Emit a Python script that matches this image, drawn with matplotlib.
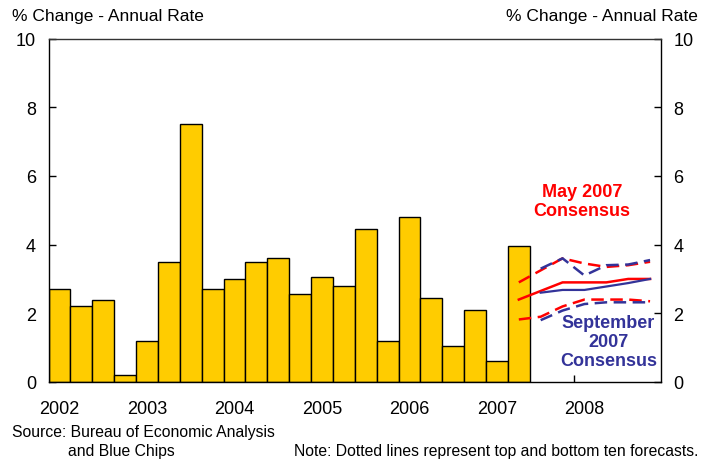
import matplotlib
matplotlib.use("Agg")
import matplotlib.pyplot as plt

# =============================
# DATA
# =============================

YEARS = ["2002", "2003", "2004", "2005", "2006", "2007", "2008"]

# quarterly GDP growth, 2002Q1 .. 2007Q2
GDP_ACTUAL = [2.7, 2.2, 2.4, 0.2, 1.2, 3.5, 7.5, 2.7, 3.0, 3.5, 3.6,
              2.55, 3.05, 2.8, 4.45, 1.2, 4.8, 2.45, 1.05, 2.1, 0.6, 3.95]

# forecast quarter index (0 = 2002Q1)
MAY_Q = [21, 22, 23, 24, 25, 26, 27]
MAY_MEDIAN = [2.4, 2.65, 2.9, 2.9, 2.9, 3.0, 3.0]
MAY_TOP = [2.9, 3.25, 3.6, 3.45, 3.35, 3.4, 3.5]
MAY_BOTTOM = [1.82, 1.9, 2.2, 2.4, 2.4, 2.4, 2.35]

SEP_Q = [22, 23, 24, 25, 26, 27]
SEP_MEDIAN = [2.6, 2.68, 2.68, 2.78, 2.88, 3.0]
SEP_TOP = [3.3, 3.6, 3.1, 3.4, 3.42, 3.55]
SEP_BOTTOM = [1.8, 2.08, 2.27, 2.32, 2.32, 2.32]

# =============================
# STYLE
# =============================

plt.rcParams["font.family"] = ["Liberation Sans", "DejaVu Sans"]

BAR_COLOR = "#FFCC00"
RED = "#FF0000"
BLUE = "#333399"
W, H = 715, 464

fig = plt.figure(figsize=(W / 100, H / 100), dpi=100)
ax = fig.add_axes([48.5 / W, (H - 383) / H, (661 - 48.5) / W, (383 - 39.5) / H])

ax.bar(range(len(GDP_ACTUAL)), GDP_ACTUAL, width=1.0, align="edge",
       color=BAR_COLOR, edgecolor="black", linewidth=1.0, zorder=2)

mx = [q + 0.5 for q in MAY_Q]
sx = [q + 0.5 for q in SEP_Q]
dash = (5, 2.6)

ax.plot(mx, MAY_MEDIAN, color=RED, lw=1.8, zorder=3)
ax.plot(sx, SEP_MEDIAN, color=BLUE, lw=1.6, zorder=3)
ax.plot(mx, MAY_TOP, color=RED, lw=1.8, dashes=dash, zorder=3)
ax.plot(mx, MAY_BOTTOM, color=RED, lw=1.8, dashes=dash, zorder=3)
ax.plot(sx, SEP_TOP, color=BLUE, lw=1.8, dashes=dash, zorder=4)
ax.plot(sx, SEP_BOTTOM, color=BLUE, lw=1.8, dashes=dash, zorder=4)

ax.set_xlim(0, 28)
ax.set_ylim(0, 10)

# year boundaries as ticks, labels under the first quarter
ax.set_xticks([4 * i for i in range(1, 7)])
ax.set_xticklabels([])
ax.set_xticks([4 * i + 0.5 for i in range(len(YEARS))], minor=True)
ax.set_xticklabels(YEARS, minor=True, fontsize=13)
ax.tick_params(axis="x", which="major", direction="in", length=5, width=1)
ax.tick_params(axis="x", which="minor", length=0, pad=13)

ax.set_yticks(range(0, 11, 2))
ax.tick_params(axis="y", direction="in", length=5, width=1, labelsize=13,
               left=True, right=True, labelleft=True, labelright=True)
ax.tick_params(axis="y", which="major", pad=9)

for s in ax.spines.values():
    s.set_color("black")
    s.set_linewidth(1.0)
ax.spines["top"].set_color("#333333")

# =============================
# TEXT
# =============================

fig.text(12 / W, 1 - 17 / H, "% Change - Annual Rate", fontsize=12.5,
         ha="left", va="center")
fig.text(698 / W, 1 - 17 / H, "% Change - Annual Rate", fontsize=12.5,
         ha="right", va="center")

ax.text(24.4, 5.28, "May 2007\nConsensus", color=RED, fontsize=13,
        fontweight="bold", ha="center", va="center", linespacing=1.15)
ax.text(25.6, 1.17, "September\n2007\nConsensus", color=BLUE, fontsize=13,
        fontweight="bold", ha="center", va="center", linespacing=1.15)

fig.text(12 / W, 1 - 433 / H, "Source: Bureau of Economic Analysis",
         fontsize=11.3, ha="left", va="center")
fig.text(68 / W, 1 - 452 / H, "and Blue Chips",
         fontsize=11.3, ha="left", va="center")
fig.text(698 / W, 1 - 452 / H,
         "Note: Dotted lines represent top and bottom ten forecasts.",
         fontsize=11.3, ha="right", va="center")

fig.savefig("out.png", dpi=100)
